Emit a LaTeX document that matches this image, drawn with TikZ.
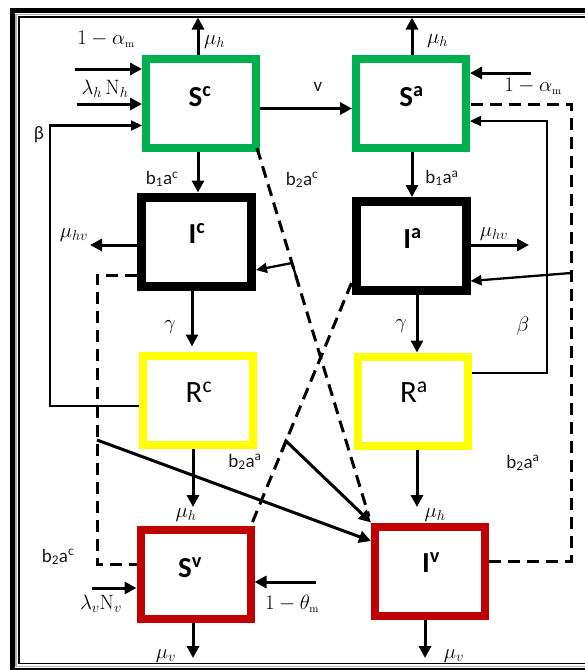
\documentclass[tikz,border=0pt]{standalone}
\usepackage[no-math]{fontspec}
\setmainfont{Carlito}
\usetikzlibrary{arrows.meta}
\definecolor{bgreen}{RGB}{0,176,80}
\definecolor{byellow}{RGB}{255,255,0}
\definecolor{bred}{RGB}{192,0,0}
\begin{document}
\begin{tikzpicture}[x=1pt,y=-1pt,
  box/.style={draw, line width=8pt, minimum width=110pt, minimum height=89pt, inner sep=0pt},
  arr/.style={line width=3pt, -{Triangle[length=12pt,width=12pt]}},
  thinarr/.style={line width=2.3pt, -{Triangle[length=11pt,width=10pt]}},
  dline/.style={line width=3pt, dash pattern=on 12pt off 7pt},
  lab/.style={font=\fontsize{19}{21}\selectfont, inner sep=0pt, text=black!90},
  mlab/.style={font=\fontsize{22}{24}\selectfont, inner sep=0pt, text=black},
  blab/.style={font=\fontsize{29}{31}\selectfont\bfseries, inner sep=0pt, anchor=base},
  rlab/.style={font=\fontsize{31}{33}\selectfont, inner sep=0pt, anchor=base},
]
\useasboundingbox (0,0) rectangle (585,670);
\clip (0,0) rectangle (585,670);
% frame
\draw[line width=5pt] (12.5,10.5) rectangle (700,670.5);
\draw[line width=1.8pt, gray!60] (16,14.5) rectangle (700,666.5);
\draw[line width=1.2pt] (19,17) rectangle (700,663.8);

% boxes
\node[box, draw=bgreen] (Sc) at (201,103.5) {};
\node[box, draw=bgreen] (Sa) at (411,103) {};
\node[box, draw=black, line width=9pt] (Ic) at (196.5,241.5) {};
\node[box, draw=black, line width=9pt] (Ia) at (411,246) {};
\node[box, draw=byellow] (Rc) at (197.5,400) {};
\node[box, draw=byellow] (Ra) at (413,401) {};
\node[box, draw=bred] (Sv) at (195.5,574.5) {};
\node[box, draw=bred] (Iv) at (430,571) {};

% box texts
\node[blab] (Sct) at (200,106) {S\textsuperscript{c}};
\node[blab] (Sat) at (411.5,106) {S\textsuperscript{a}};
\node[blab] (Ict) at (197,243) {I\textsuperscript{c}};
\node[blab] (Iat) at (412.5,248) {I\textsuperscript{a}};
\node[rlab] (Rct) at (199,402) {R\textsuperscript{c}};
\node[rlab] (Rat) at (414,402) {R\textsuperscript{a}};
\node[blab] (Svt) at (190,577) {S\textsuperscript{v}};
\node[blab] (Ivt) at (431,572) {I\textsuperscript{v}};

% coordinates
\coordinate (tSc) at (198,17.5);
\coordinate (tSa) at (412,17.5);
\coordinate (inA) at (75,69);
\coordinate (inB) at (77,104);
\coordinate (bL1) at (50,125.5);
\coordinate (inC) at (531,73);
\coordinate (bR1) at (547,121);
\coordinate (dR) at (571,104);
\coordinate (oIc) at (90,245);
\coordinate (oIa) at (529,245);
\coordinate (oRc) at (193,507);
\coordinate (oRa) at (417,507);
\coordinate (oSv) at (193,658);
\coordinate (oIv) at (425,658);
\coordinate (inD) at (92,588);
\coordinate (inE) at (316,582);
\coordinate (dL) at (97,275);
\coordinate (p1) at (292,263);
\coordinate (p1b) at (297.5,281);
\coordinate (p2) at (571,273);
\coordinate (p3) at (286,441);
\coordinate (p3b) at (281.5,452);
\coordinate (p4) at (97,440);
\path ([yshift=-5pt]Sc.east) coordinate (scA);
\path ([xshift=-3pt]Sc.south) coordinate (scB);
\path ([xshift=1pt]Sa.south) coordinate (saB);
\path ([xshift=-4.5pt]Ic.south) coordinate (icB);
\path ([xshift=6pt]Ia.south) coordinate (iaB);
\path ([yshift=10.5pt]Sv.west) coordinate (svW);
\path ([yshift=-28.5pt]Ic.east) coordinate (icR);
\path ([yshift=-35pt]Ia.east) coordinate (iaR);

% vertical outflows
\draw[arr] ([xshift=-3pt]Sc.north) -- (tSc);
\draw[arr] ([xshift=1pt]Sa.north) -- (tSa);
% inflows to Sc
\draw[arr] (inA) -- (inA -| Sc.west);
\draw[arr] (inB) -- (inB -| Sc.west);
\draw[thinarr] ([yshift=-6pt]Rc.west) -| (bL1) -- (bL1 -| Sc.west);
% Sc -> Sa
\draw[arr] (scA) -- (scA -| Sa.west);
% inflows to Sa
\draw[arr] (inC) -- (inC -| Sa.east);
\draw[thinarr] ([yshift=28pt]Ra.east) -| (bR1) -- (bR1 -| Sa.east);
\draw[dline] ([yshift=10pt]Iv.east) -| (dR) -- (dR -| Sa.east);
% S -> I
\draw[arr] (scB) -- (scB |- Ic.north);
\draw[arr] (saB) -- (saB |- Ia.north);
% I outflows
\draw[arr] (oIc -| Ic.west) -- (oIc);
\draw[arr] (oIa -| Ia.east) -- (oIa);
\draw[arr, shorten >=5pt] (icB) -- (icB |- Rc.north);
\draw[arr] (iaB) -- (iaB |- Ra.north);
% R outflows
\draw[arr] (oRc |- Rc.south) -- (oRc);
\draw[arr] (oRa |- Ra.south) -- (oRa);
% vector outflows
\draw[arr] (oSv |- Sv.south) -- (oSv);
\draw[arr] (oIv |- Iv.south) -- (oIv);
\draw[arr] (inD) -- (inD -| Sv.west);
\draw[arr] (inE) -- (inE -| Sv.east);
% dashed infection lines
\draw[dline] (dL -| Ic.west) -- (dL) |- (svW);
\draw[dline] ([shift={(-3pt,4pt)}]Sc.south east) -- ([shift={(-2pt,6pt)}]Iv.north west);
\draw[dline] ([shift={(-2pt,4pt)}]Sv.north east) -- ([yshift=12pt]Ia.south west);
% arrows from dashed lines
\draw[thinarr] (p1b) -- (p1) -- (icR);
\draw[thinarr] (p2) -- (iaR);
\draw[arr] (p3b) -- (p3) -- (Iv.north west);
\draw[arr] (p4) -- ([yshift=30pt]Iv.west);

% labels
\node[mlab] (l1) at (106,39) {$1-\alpha_{\scriptscriptstyle\mathrm{m}}$};
\node[mlab, anchor=west] (l2) at (204,42) {$\mu_h$};
\node[mlab] (l3) at (105,89) {$\lambda_h\,\mathrm{N}_h$};
\node[lab] (l4) at (39,135) {β};
\node[lab] (l5) at (162,179) {b\textsubscript{1}a\textsuperscript{c}};
\node[lab] (l6) at (302,180) {b\textsubscript{2}a\textsuperscript{c}};
\node[lab] (l7) at (318,87) {v};
\node[mlab, anchor=west] (l8) at (427,41) {$\mu_h$};
\node[mlab] (l9) at (533,86) {$1-\alpha_{\scriptscriptstyle\mathrm{m}}$};
\node[lab] (l10) at (442,178) {b\textsubscript{1}a\textsuperscript{a}};
\node[mlab] (l11) at (74,235) {$\mu_{hv}$};
\node[mlab] (l12) at (494,234) {$\mu_{hv}$};
\node[mlab] (l13) at (170,327) {$\gamma$};
\node[mlab] (l14) at (401,326) {$\gamma$};
\node[mlab] (l15) at (523,326) {$\beta$};
\node[lab] (l16) at (245,462) {b\textsubscript{2}a\textsuperscript{a}};
\node[lab] (l17) at (523,463) {b\textsubscript{2}a\textsuperscript{a}};
\node[mlab] (l18) at (186,515) {$\mu_h$};
\node[mlab] (l19) at (435,515) {$\mu_h$};
\node[lab] (l20) at (58,557) {b\textsubscript{2}a\textsuperscript{c}};
\node[mlab] (l21) at (101,604) {$\lambda_v\mathrm{N}_v$};
\node[mlab] (l22) at (292,604) {$1-\theta_{\scriptscriptstyle\mathrm{m}}$};
\node[mlab] (l23) at (166,656) {$\mu_v$};
\node[mlab] (l24) at (454,656) {$\mu_v$};
\end{tikzpicture}
\end{document}
